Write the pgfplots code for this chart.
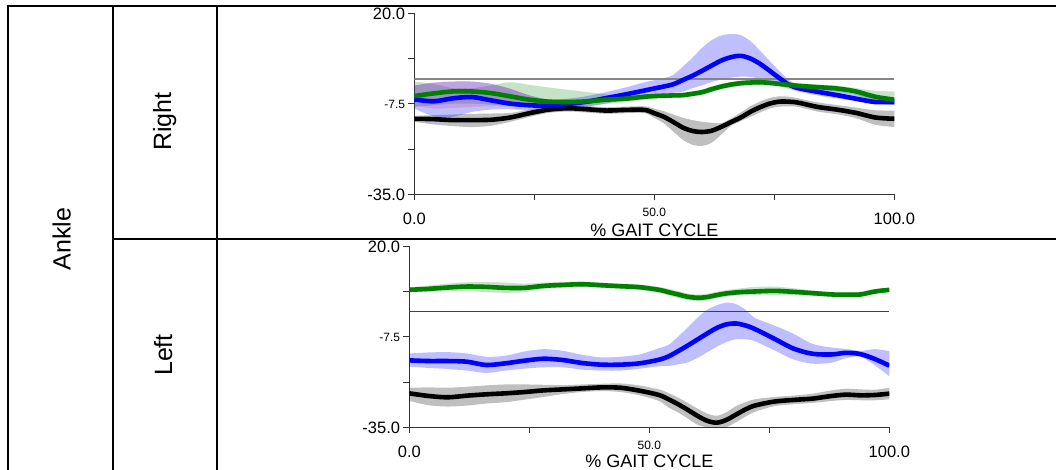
\documentclass[border=0pt]{standalone}
\usepackage{fontspec}
\setmainfont{Liberation Sans}
\usepackage{pgfplots}
\usepackage{pgfplotstable}
\pgfplotsset{compat=1.18}
\usepgfplotslibrary{fillbetween}

\definecolor{gblue}{RGB}{0,0,255}
\definecolor{ggreen}{RGB}{0,128,0}
\definecolor{gmauve}{RGB}{200,50,120}

\newcommand\bigtick{\fontsize{16.5}{18}\selectfont}
\newcommand\smalltick{\fontsize{12}{14}\selectfont}

% Right ankle: mean and band limits (deg) over the gait cycle
\pgfplotstableread{
x    bk     bkhi   bklo   bl    blhi   bllo   gr    grhi   grlo
0   -12.1  -11.2  -13.0  -6.2  -2.0   -9.0   -5.2  -0.8   -8.5
4   -12.2  -11.0  -13.8  -6.8  -1.2  -11.3   -4.4  -1.5   -8.0
8   -12.5  -10.8  -14.3  -5.9  -0.8  -11.5   -3.8  -2.8   -7.5
12  -12.5  -10.6  -14.6  -5.5  -0.8  -10.0   -3.8  -2.8   -7.5
16  -12.4  -10.5  -14.2  -6.5  -1.5   -9.3   -4.3  -2.0   -7.8
20  -11.7  -10.3  -13.0  -7.5  -3.0   -9.2   -5.3  -1.0   -8.0
24  -10.4   -9.3  -11.5  -8.0  -5.0   -9.6   -6.3  -1.8   -8.3
28   -9.3   -8.3  -10.3  -8.1  -6.2  -10.0   -6.9  -2.6   -8.6
32   -8.9   -7.9   -9.9  -7.6  -6.0   -9.4   -7.0  -3.3   -8.6
36   -9.2   -8.2  -10.2  -6.9  -5.2   -8.4   -6.8  -4.0   -8.3
40   -9.6   -8.6  -10.6  -5.8  -4.0   -7.4   -6.3  -4.7   -7.6
44   -9.4   -8.4  -10.4  -4.7  -2.6   -6.4   -6.0  -5.0   -7.0
48   -9.4   -8.3  -10.4  -3.5  -1.0   -5.2   -5.4  -4.7   -6.3
50  -10.4   -9.0  -11.8  -2.9  -0.4   -4.8   -5.2  -4.5   -6.0
52  -11.5   -9.8  -13.5  -2.3   0.2   -4.5   -5.1  -4.4   -5.8
54  -13.1  -10.8  -16.0  -1.6   1.3   -4.2   -5.0  -4.3   -5.7
56  -14.8  -11.8  -18.5  -0.3   3.8   -3.8   -4.9  -4.2   -5.7
58  -15.8  -12.5  -20.0   1.0   6.5   -2.8   -4.5  -3.8   -5.3
60  -16.1  -13.0  -20.3   2.5   9.5   -1.9   -4.0  -3.2   -4.8
62  -15.7  -13.3  -19.3   4.1  11.8   -0.9   -3.1  -2.3   -4.0
64  -14.5  -13.4  -16.8   5.6  13.2   -0.2   -2.3  -1.5   -3.1
66  -13.1  -12.0  -14.2   6.6  13.6    0.4   -1.7  -0.9   -2.6
68  -11.7  -10.2  -12.8   7.0  13.3    0.7   -1.3  -0.5   -2.1
70  -10.0   -8.3  -11.5   6.2  11.5    0.6   -1.1  -0.3   -1.9
72   -8.6   -6.9  -10.2   4.6   8.6    0.0   -1.0  -0.2   -1.8
74   -7.5   -5.8   -9.0   2.5   5.5   -1.2   -1.2  -0.4   -2.0
76   -6.9   -5.3   -8.4   0.3   2.5   -2.2   -1.5  -0.7   -2.3
78   -6.9   -5.4   -8.3  -1.7  -0.3   -3.0   -1.8  -1.0   -2.6
80   -7.2   -5.9   -8.5  -2.8  -1.8   -3.8   -2.1  -1.3   -2.9
84   -8.5   -7.1   -9.9  -3.9  -3.0   -5.0   -2.5  -1.7   -3.3
88   -9.3   -7.9  -10.7  -4.9  -3.6   -5.9   -2.9  -2.0   -3.8
92  -10.3   -8.7  -11.9  -6.0  -4.6   -6.7   -3.8  -2.8   -4.8
96  -11.7   -9.5  -13.9  -7.0  -5.6   -7.5   -5.4  -3.6   -6.8
100 -12.1   -9.6  -14.6  -7.0  -6.0   -7.9   -6.3  -3.8   -7.6
}\rightankle

% Early-stance spread of the fourth right-side trace
\pgfplotstableread{
x   rdhi  rdlo
0   -2.0  -8.0
4   -1.0  -9.0
8   -0.8  -8.8
12  -0.8  -8.5
16  -1.5  -8.3
20  -3.0  -8.3
24  -5.0  -8.4
28  -6.4  -8.3
32  -7.3  -7.9
34  -7.6  -7.6
}\rightred

% Left ankle: mean and band limits (deg) over the gait cycle
\pgfplotstableread{
x    bk     bkhi   bklo   bl     blhi   bllo   gr    grhi  grlo
0   -24.7  -23.0  -27.0  -14.7  -12.6  -16.6   6.7   7.5   6.0
4   -25.5  -22.9  -28.3  -14.9  -12.3  -17.0   7.0   8.0   6.0
8   -25.9  -23.0  -28.7  -14.9  -12.2  -17.3   7.4   8.6   6.3
12  -25.4  -22.7  -28.4  -15.1  -12.6  -17.8   7.7   9.0   6.4
16  -25.0  -22.3  -27.8  -16.1  -13.6  -18.5   7.6   9.1   6.0
20  -24.7  -22.0  -27.4  -15.6  -13.3  -17.8   7.3   8.9   5.8
24  -24.3  -22.0  -26.6  -14.8  -12.0  -17.2   7.3   8.6   6.0
28  -23.8  -22.1  -25.8  -14.2  -11.3  -16.8   7.9   8.9   7.0
32  -23.5  -22.2  -24.9  -14.6  -11.8  -16.8   8.2   9.1   7.3
36  -23.2  -22.0  -24.3  -15.5  -13.0  -17.5   8.4   9.2   7.6
40  -22.9  -21.8  -24.0  -16.0  -13.8  -17.8   8.1   8.9   7.3
44  -23.0  -21.7  -24.3  -16.0  -13.6  -17.8   7.8   8.6   7.0
48  -23.9  -22.3  -25.3  -15.6  -12.9  -17.2   7.5   8.3   6.7
52  -25.2  -23.5  -27.0  -14.5  -11.0  -16.5   6.7   7.6   5.8
54  -26.5  -24.6  -29.0  -13.5  -10.0  -16.4   6.0   7.0   5.0
56  -28.0  -26.0  -30.5  -11.9   -7.5  -15.9   5.3   6.3   4.2
58  -29.7  -27.6  -32.3  -10.2   -4.7  -15.3   4.6   5.6   3.6
60  -31.5  -29.3  -34.2   -8.4   -1.8  -14.0   4.3   5.3   3.3
62  -33.0  -30.8  -35.0   -6.6    0.6  -12.3   4.5   5.5   3.5
64  -33.6  -31.5  -35.0   -4.9    2.0  -10.6   5.1   6.1   4.2
66  -32.8  -30.5  -35.0   -3.8    2.8   -9.2   5.6   6.6   4.6
68  -31.2  -28.6  -33.5   -3.5    2.4   -8.3   5.9   7.0   5.0
70  -29.6  -27.4  -31.8   -4.1    0.7   -8.3   6.1   7.3   5.1
72  -28.4  -26.5  -30.3   -5.2   -1.8   -8.9   6.2   7.6   5.2
76  -27.2  -25.8  -28.6   -8.1   -4.1  -11.6   6.4   7.7   5.2
80  -26.7  -25.4  -28.0  -11.1   -6.6  -14.4   6.1   7.2   5.1
84  -26.3  -24.8  -27.6  -12.7   -9.7  -15.7   5.7   6.5   4.9
88  -25.5  -23.8  -27.0  -12.9  -10.8  -15.4   5.3   6.0   4.6
91  -25.1  -23.3  -26.7  -12.4  -11.2  -14.0   5.2   5.9   4.5
94  -25.3  -23.5  -26.8  -12.8  -11.8  -13.6   5.3   6.1   4.6
97  -25.2  -23.6  -26.8  -14.3  -11.3  -16.2   6.2   6.9   5.5
100 -24.8  -23.0  -26.5  -16.3  -11.9  -19.5   6.7   7.3   6.1
}\leftankle

\pgfplotsset{
  gait/.style={
    scale only axis, width=480pt, height=181.3pt,
    xmin=0, xmax=100, ymin=-35, ymax=20,
    axis lines*=left,
    axis line style={black!80, line width=0.8pt},
    tick style={black!80, line width=0.8pt},
    tick align=outside, major tick length=6pt,
    xtick={0,25,50,75,100},
    xticklabels={{\bigtick 0.0},{},{\smalltick\raisebox{8.3pt}{50.0}},{},{\bigtick 100.0}},
    ytick={-35,-21.25,-7.5,6.25,20},
    yticklabels={{\bigtick -35.0},{},{\smalltick -7.5\hspace{-3.5pt}},{},{\bigtick\raisebox{-3pt}{20.0}}},
    x tick label style={anchor=base, inner sep=0pt, yshift=-24.5pt},
    y tick label style={anchor=east, inner sep=0pt, xshift=-3pt, yshift=-1pt},
    xlabel={\fontsize{18}{20}\selectfont \% GAIT CYCLE},
    xlabel style={at={(axis description cs:0.5,0)}, anchor=base, inner sep=0pt, yshift=-42.4pt},
    clip=true,
  },
  mean/.style={line width=4.6pt, smooth, tension=0.5},
  lim/.style={draw=none, smooth, tension=0.5, forget plot},
}

\begin{document}
\begin{tikzpicture}

% ---- Right ankle ----
\begin{axis}[gait, at={(414.3pt,275.7pt)}, anchor=south west]
  \addplot[lim, name path=kh] table[x=x,y=bkhi]{\rightankle};
  \addplot[lim, name path=kl] table[x=x,y=bklo]{\rightankle};
  \addplot[fill=black, fill opacity=0.25, draw=none] fill between[of=kh and kl];
  \addplot[lim, name path=gh] table[x=x,y=grhi]{\rightankle};
  \addplot[lim, name path=gl] table[x=x,y=grlo]{\rightankle};
  \addplot[fill=ggreen, fill opacity=0.22, draw=none] fill between[of=gh and gl];
  \addplot[lim, name path=bh] table[x=x,y=blhi]{\rightankle};
  \addplot[lim, name path=bl] table[x=x,y=bllo]{\rightankle};
  \addplot[fill=gblue, fill opacity=0.25, draw=none] fill between[of=bh and bl];
  \addplot[lim, name path=rh] table[x=x,y=rdhi]{\rightred};
  \addplot[lim, name path=rl] table[x=x,y=rdlo]{\rightred};
  \addplot[fill=gmauve, fill opacity=0.2, draw=none] fill between[of=rh and rl];
  \addplot[black!48, line width=1.5pt] coordinates {(0,0) (100,0)};
  \addplot[mean, black] table[x=x,y=bk]{\rightankle};
  \addplot[mean, gblue] table[x=x,y=bl]{\rightankle};
  \addplot[mean, ggreen] table[x=x,y=gr]{\rightankle};
\end{axis}

% ---- Left ankle ----
\begin{axis}[gait, at={(409.3pt,42.7pt)}, anchor=south west,
             xlabel style={yshift=1.8pt}]
  \addplot[lim, name path=lkh] table[x=x,y=bkhi]{\leftankle};
  \addplot[lim, name path=lkl] table[x=x,y=bklo]{\leftankle};
  \addplot[fill=black, fill opacity=0.25, draw=none] fill between[of=lkh and lkl];
  \addplot[lim, name path=lgh] table[x=x,y=grhi]{\leftankle};
  \addplot[lim, name path=lgl] table[x=x,y=grlo]{\leftankle};
  \addplot[fill=ggreen, fill opacity=0.22, draw=none] fill between[of=lgh and lgl];
  \addplot[lim, name path=lbh] table[x=x,y=blhi]{\leftankle};
  \addplot[lim, name path=lbl] table[x=x,y=bllo]{\leftankle};
  \addplot[fill=gblue, fill opacity=0.25, draw=none] fill between[of=lbh and lbl];
  \addplot[black!75, line width=1pt] coordinates {(0,0) (100,0)};
  \addplot[mean, black] table[x=x,y=bk]{\leftankle};
  \addplot[mean, gblue] table[x=x,y=bl]{\leftankle};
  \addplot[mean, ggreen] table[x=x,y=gr]{\leftankle};
\end{axis}

% ---- table frame ----
\begin{scope}[line width=2pt]
  \draw (8.3pt,-5pt) -- (8.3pt,464pt) -- (1060pt,464pt);
  \draw (113.3pt,-5pt) -- (113.3pt,464pt);
  \draw (216.7pt,-5pt) -- (216.7pt,464pt);
  \draw (113.3pt,230.7pt) -- (1060pt,230.7pt);
\end{scope}

\node[rotate=90, anchor=base, inner sep=0pt, font=\fontsize{25}{28}\selectfont] at (70.7pt,231pt) {Ankle};
\node[rotate=90, anchor=base, inner sep=0pt, font=\fontsize{25}{28}\selectfont] at (171pt,348.3pt) {Right};
\node[rotate=90, anchor=base, inner sep=0pt, font=\fontsize{25}{28}\selectfont] at (172pt,115pt) {Left};

\pgfresetboundingbox
\useasboundingbox (0pt,0pt) rectangle (1056pt,470pt);
\end{tikzpicture}
\end{document}
